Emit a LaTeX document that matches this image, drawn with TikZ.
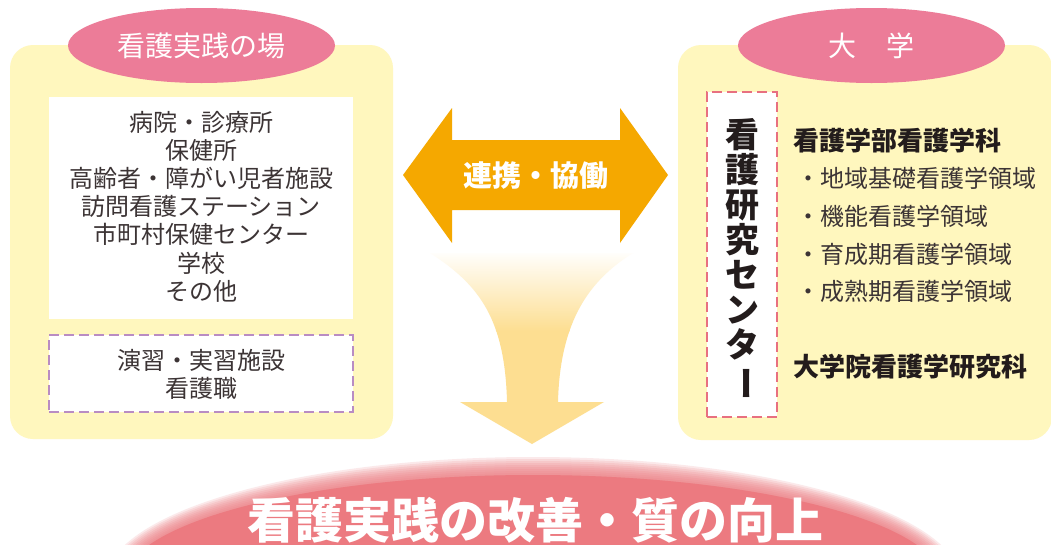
\documentclass[tikz,border=0pt]{standalone}
\usepackage{fontspec}
\setmainfont{Noto Sans CJK JP}
\usepackage{graphicx}
\usetikzlibrary{shapes.geometric}
\definecolor{boxyellow}{RGB}{255,247,190}
\definecolor{titlepink}{RGB}{236,124,152}
\definecolor{linkorange}{RGB}{245,168,0}
\definecolor{funnelyellow}{RGB}{253,222,145}
\definecolor{goalpink}{RGB}{236,122,128}
\definecolor{textgray}{RGB}{60,52,53}
\definecolor{darktext}{RGB}{35,28,28}
\definecolor{dashpurple}{RGB}{185,140,195}
\definecolor{dashpink}{RGB}{232,112,128}
\begin{document}
\begin{tikzpicture}[x=1pt,y=-1pt,
  panel/.style={fill=boxyellow, rounded corners=23pt, inner sep=0pt},
  titleoval/.style={ellipse, fill=titlepink, minimum width=267pt, minimum height=75pt, inner sep=0pt, text=white, font=\fontsize{28}{30}\selectfont},
  listtext/.style={text=textgray, font=\fontsize{24}{28.2}\selectfont, align=center, inner sep=0pt},
  dashbox/.style={fill=white, line width=2.5pt, dash pattern=on 10pt off 5pt, inner sep=0pt},
  deptitle/.style={anchor=west, inner sep=0pt, text=darktext, font=\bfseries\fontsize{26}{28}\selectfont},
  deptitem/.style={anchor=west, inner sep=0pt, text=textgray, font=\fontsize{24}{26}\selectfont},
]
\clip (0,0) rectangle (1051,544);
\fill[white] (0,0) rectangle (1051,544);

% panels
\node[panel, minimum width=383pt, minimum height=394pt] (fieldpanel) at (201.5,242) {};
\node[panel, minimum width=374pt, minimum height=395pt] (unipanel) at (865,242.5) {};
\node[titleoval] (fieldtitle) at (201.5,45.5) {看護実践の場};
\node[titleoval] (unititle) at (871.5,45.5) {大\hspace{1.1em}学};

% left contents
\node[fill=white, minimum width=304pt, minimum height=222pt, inner sep=0pt] (sitesbox) at (201,208) {};
\node[listtext] (sites) at (201,206.5) {病院・診療所\\保健所\\高齢者・障がい児者施設\\訪問看護ステーション\\市町村保健センター\\学校\\その他};
\node[dashbox, draw=dashpurple, minimum width=304pt, minimum height=77pt] (trainbox) at (201,373.5) {};
\node[listtext] (train) at (201,374) {演習・実習施設\\看護職};

% right contents
\node[dashbox, draw=dashpink, minimum width=70pt, minimum height=325pt] (centerbox) at (742,254.5) {};
\node[align=center, inner sep=0pt, text=darktext, font=\bfseries\fontsize{34}{35}\selectfont] (center) at (742,259.5) {看\\護\\研\\究\\セ\\ン\\タ\\\rotatebox[origin=c]{-90}{ー}};
\node[deptitle] (faculty) at (793,141) {看護学部看護学科};
\node[deptitem] (area1) at (796,178) {・地域基礎看護学領域};
\node[deptitem] (area2) at (796,216) {・機能看護学領域};
\node[deptitem] (area3) at (796,254) {・育成期看護学領域};
\node[deptitem] (area4) at (796,291) {・成熟期看護学領域};
\node[deptitle] (graduate) at (793,367) {大学院看護学研究科};

% double arrow
\fill[linkorange] (403,175) -- (452,108) -- (452,140) -- (620,140) -- (620,108) -- (668,175) -- (620,243) -- (620,210) -- (452,210) -- (452,243) -- cycle;
\node[text=white, inner sep=0pt, font=\bfseries\fontsize{29}{30}\selectfont] (link) at (536,176) {連携・協働};

% funnel arrow
\begin{scope}
\clip (430,253) .. controls (480,285) and (505,320) .. (507,402) -- (460,402) -- (532,444) -- (604,402) -- (558,402) .. controls (560,320) and (590,280) .. (633,253) -- cycle;
\fill[funnelyellow] (420,330) rectangle (650,450);
\shade[top color=white, bottom color=funnelyellow] (420,250) rectangle (650,331);
\end{scope}

% goal
\foreach \r in {0,2,...,18}
  \fill[goalpink, opacity=0.16] (533,583) ellipse [x radius={(410+\r)*1pt}, y radius={(108+\r)*1pt}];
\fill[goalpink] (533,583) ellipse [x radius=410pt, y radius=108pt];
\node[text=white, inner sep=0pt, font=\bfseries\fontsize{48}{50}\selectfont] (goal) at (535,520) {看護実践の改善・質の向上};
\end{tikzpicture}
\end{document}
